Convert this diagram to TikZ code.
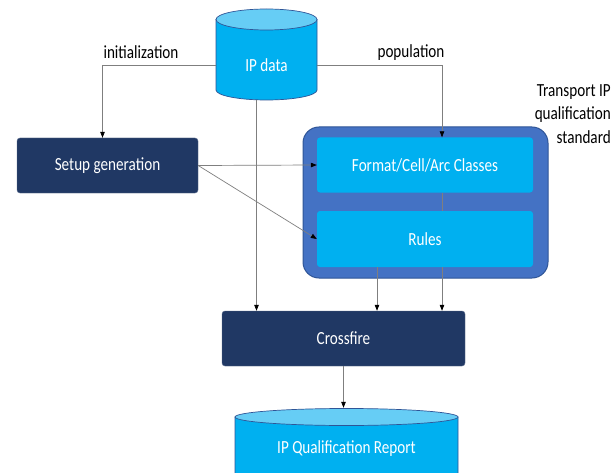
\documentclass[tikz,border=0pt]{standalone}
\usepackage{fontspec}
\setmainfont{Carlito}[FakeStretch=0.82]
\usepackage{tikz}
\usetikzlibrary{arrows.meta}
\definecolor{navy}{HTML}{203864}
\definecolor{skyblue}{HTML}{00B0F0}
\definecolor{skytop}{HTML}{66CDF5}
\definecolor{midblue}{HTML}{4472C4}
\definecolor{rimblue}{HTML}{2F5597}
\definecolor{wire}{HTML}{7F7F7F}

\begin{document}
\begin{tikzpicture}[x=1pt, y=-1pt, font=\fontsize{18.5}{23.5}\selectfont,
    darkbox/.style={rectangle, rounded corners=3pt, fill=navy, draw=navy!75!white,
      text=white, minimum width=181pt, minimum height=55pt},
    lightbox/.style={rectangle, rounded corners=3pt, fill=skyblue, text=white,
      minimum width=216pt, minimum height=55pt},
    flow/.style={draw=wire, line width=0.7pt,
      -{Triangle[length=6pt,width=4.5pt,color=black]}},
    link/.style={draw=wire, line width=0.7pt},
    drumbody/.style={fill=skyblue, draw=rimblue, line width=0.7pt},
    drumtop/.style={fill=skytop, draw=rimblue, line width=0.7pt}]
  \clip (0,0) rectangle (615,473);
  \fill[white] (0,0) rectangle (615,473);

  % databases
  \path[drumbody] (216,19.5) -- (216,90) arc[start angle=180, end angle=360,
    x radius=50.5pt, y radius=10pt] -- (317,19.5) -- cycle;
  \path[drumtop] (266.5,19.5) ellipse [x radius=50.5pt, y radius=10.5pt];
  \node (ipdata) at (266.5,65) [minimum width=101pt, minimum height=70pt,
    inner sep=0pt, text=white] {IP data};

  \path[drumbody] (235,417) -- (235,500) arc[start angle=180, end angle=360,
    x radius=111.5pt, y radius=8.5pt] -- (458,417) -- cycle;
  \path[drumtop] (346.5,417) ellipse [x radius=111.5pt, y radius=8.5pt];
  \node (report) at (346.5,449) [minimum width=223pt, minimum height=82pt,
    inner sep=0pt, text=white] {IP Qualification Report};

  % qualification standard
  \node (standard) at (425.5,202.5) [rectangle, rounded corners=16pt, fill=midblue,
    draw=rimblue, line width=1pt, minimum width=245pt, minimum height=151pt] {};
  \node (format) at (425,165) [lightbox] {Format/Cell/Arc Classes};
  \node (rules) at (425,239) [lightbox, minimum height=56pt] {Rules};
  \node (standardlbl) at (611,84) [anchor=north east, align=right, inner sep=0pt]
    {Transport IP\\qualification\\standard};

  \node (setup) at (107.5,165.5) [darkbox] {Setup generation};
  \node (crossfire) at (343.5,338.5) [darkbox, minimum width=243pt] {Crossfire};

  \node (initlbl) at (141,59) [anchor=base] {initialization};
  \node (poplbl) at (411,58) [anchor=base] {population};

  % connectors
  \draw[flow] (ipdata.west) -| ([xshift=-5pt]setup.north);
  \draw[flow] (ipdata.east) -| ([xshift=17pt]format.north);
  \draw[flow] ([xshift=-10pt]ipdata.south) -- ([xshift=-10pt]ipdata.south |- crossfire.north);
  \draw[flow] (setup.east) -- (format.west);
  \draw[flow] (setup.east) -- (rules.west);
  \draw[link] ([xshift=17pt]format.south) -- ([xshift=17pt]rules.north);
  \draw[flow] ([xshift=-48pt]rules.south) -- ([xshift=-48pt]rules.south |- crossfire.north);
  \draw[flow] ([xshift=17pt]rules.south) -- ([xshift=17pt]rules.south |- crossfire.north);
  \draw[flow] (crossfire.south) -- (crossfire.south |- report.north);
\end{tikzpicture}
\end{document}
